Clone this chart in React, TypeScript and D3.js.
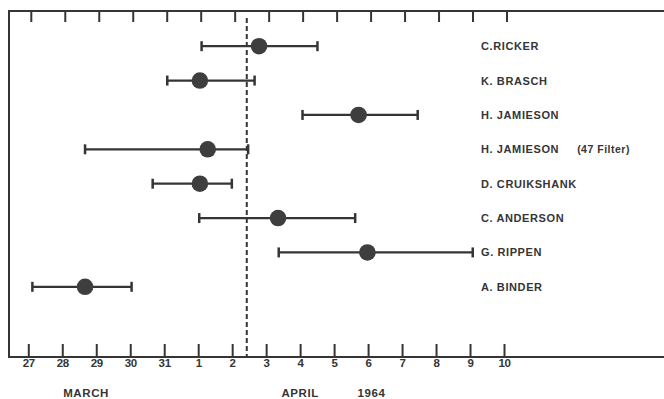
import React, { useEffect, useRef } from 'react';
import * as d3 from 'd3';

// days numbered continuously: March 27 = 27 ... April 1 = 32 ... April 10 = 41
const observers = [
  'C.RICKER',
  'K. BRASCH',
  'H. JAMIESON',
  'H. JAMIESON',
  'D. CRUIKSHANK',
  'C. ANDERSON',
  'G. RIPPEN',
  'A. BINDER',
];
const notes = ['', '', '', '(47 Filter)', '', '', '', ''];
const lowValues = [32.1, 31.09, 35.07, 28.67, 30.66, 32.03, 34.37, 27.12];
const midValues = [33.79, 32.05, 36.72, 32.28, 32.05, 34.35, 36.98, 28.67];
const highValues = [35.51, 33.66, 38.46, 33.47, 32.99, 36.62, 40.08, 30.04];
const tickDays = d3.range(27, 42);
const dashedDay = 33.43;
const monthLabels = [
  { day: 28.7, text: 'MARCH' },
  { day: 35.0, text: 'APRIL' },
  { day: 37.1, text: '1964' },
];

const W = 664;
const H = 399;
const INK = '#353535';
const FONT = '"Liberation Sans", Arial, sans-serif';

export default function App() {
  const ref = useRef<SVGSVGElement>(null);

  useEffect(() => {
    const svg = d3.select(ref.current);
    svg.selectAll('*').remove();

    const left = 9;
    const top = 11;
    const bottom = 357;

    const x = d3.scaleLinear().domain([27, 41]).range([28.3, 504]);
    const y = d3
      .scaleBand()
      .domain(observers.map((_, i) => String(i)))
      .range([29, 304]);

    svg.append('rect').attr('width', W).attr('height', H).attr('fill', '#ffffff');

    // frame
    svg
      .append('path')
      .attr('d', `M${W},${top}H${left}V${bottom}H${W}`)
      .attr('fill', 'none')
      .attr('stroke', INK)
      .attr('stroke-width', 2);

    // top ticks (no labels)
    const topAxis = svg
      .append('g')
      .attr('transform', `translate(2.5,${top})`)
      .call(d3.axisTop(x).tickValues(tickDays).tickSizeInner(-11).tickSizeOuter(0).tickFormat(() => ''));
    topAxis.select('.domain').remove();
    topAxis.selectAll('line').attr('stroke', INK).attr('stroke-width', 2);

    // bottom axis
    const botAxis = svg
      .append('g')
      .attr('transform', `translate(0,${bottom})`)
      .call(
        d3
          .axisBottom(x)
          .tickValues(tickDays)
          .tickSizeInner(-13)
          .tickSizeOuter(0)
          .tickPadding(2)
          .tickFormat((d) => String(+d > 31 ? +d - 31 : +d))
      );
    botAxis.select('.domain').remove();
    botAxis.selectAll('line').attr('stroke', INK).attr('stroke-width', 2);
    botAxis
      .selectAll('text')
      .attr('fill', INK)
      .style('font-family', FONT)
      .style('font-weight', 'bold')
      .style('font-size', '11.5px')
      .style('letter-spacing', '-0.3px');

    // month / year labels
    svg
      .selectAll('.month')
      .data(monthLabels)
      .enter()
      .append('text')
      .attr('x', (d) => x(d.day))
      .attr('y', 397)
      .attr('text-anchor', 'middle')
      .attr('fill', INK)
      .style('font-family', FONT)
      .style('font-weight', 'bold')
      .style('font-size', '11.5px')
      .style('letter-spacing', '0.6px')
      .text((d) => d.text);

    // dashed reference line
    svg
      .append('line')
      .attr('x1', x(dashedDay))
      .attr('x2', x(dashedDay))
      .attr('y1', 18)
      .attr('y2', bottom)
      .attr('stroke', INK)
      .attr('stroke-width', 2)
      .attr('stroke-dasharray', '5,3');

    const rows = observers.map((name, i) => ({
      name,
      note: notes[i],
      low: lowValues[i],
      mid: midValues[i],
      high: highValues[i],
      key: String(i),
    }));

    const g = svg
      .selectAll('.row')
      .data(rows)
      .enter()
      .append('g')
      .attr('transform', (d) => `translate(0,${(y(d.key) ?? 0) + y.bandwidth() / 2})`);

    g.append('line')
      .attr('x1', (d) => x(d.low))
      .attr('x2', (d) => x(d.high))
      .attr('stroke', INK)
      .attr('stroke-width', 2.2);

    g.selectAll('.cap')
      .data((d) => [d.low, d.high])
      .enter()
      .append('line')
      .attr('x1', (v) => x(v))
      .attr('x2', (v) => x(v))
      .attr('y1', -5)
      .attr('y2', 5)
      .attr('stroke', INK)
      .attr('stroke-width', 2.5);

    g.append('circle')
      .attr('cx', (d) => x(d.mid))
      .attr('r', 8.3)
      .attr('fill', '#3e3e3e');

    const label = g
      .append('text')
      .attr('x', 481)
      .attr('dy', '0.36em')
      .attr('fill', INK)
      .style('font-family', FONT)
      .style('font-weight', 'bold')
      .style('font-size', '11px')
      .style('letter-spacing', '0.6px')
      .text((d) => d.name);
    label
      .filter((d) => d.note !== '')
      .append('tspan')
      .attr('dx', 18)
      .style('font-size', '10.5px')
      .style('letter-spacing', '0.5px')
      .text((d) => d.note);
  }, []);

  return (
    <svg
      ref={ref}
      width={W}
      height={H}
      style={{ position: 'absolute', left: 0, top: 0, display: 'block' }}
    />
  );
}
